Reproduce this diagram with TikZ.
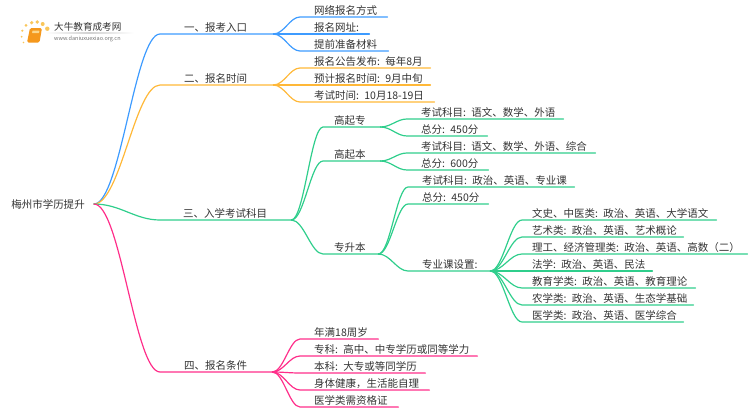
\documentclass[tikz,border=0pt]{standalone}
\usepackage{fontspec}
\setmainfont{Noto Sans CJK SC}
\usetikzlibrary{calc}
\definecolor{inkgray}{HTML}{333333}
\definecolor{bluebranch}{HTML}{3D9BFF}
\definecolor{orangebranch}{HTML}{FFB838}
\definecolor{greenbranch}{HTML}{2FCE8C}
\definecolor{pinkbranch}{HTML}{FF2E8A}
\definecolor{dotyellow}{HTML}{F9C65A}
\definecolor{bookorange}{HTML}{F5981C}
\tikzset{
  item/.style 2 args={anchor=south west, text width=#1pt, align=left, inner xsep=0pt, inner ysep=1pt,
    text=inkgray, font=\fontsize{10.5}{13}\selectfont, execute at begin node={\spaceskip=1.5pt\hspace*{#2pt}}},
  curve/.style={to path={.. controls ($(\tikztostart)!0.4!(\tikztostart -| \tikztotarget)$)
    and ($(\tikztotarget)!0.38!(\tikztotarget -| \tikztostart)$) .. (\tikztotarget)}},
  branch/.style={line width=1.2pt, line cap=round, color=#1}
}
\begin{document}
\begin{tikzpicture}[x=1pt, y=-1pt]
  \useasboundingbox (0,0) rectangle (750,410);

  % logo
  \foreach \dx/\dy/\dr in {23.5/42.5/0.8, 21.7/36.7/1, 22.3/30.7/1.2, 26/25.3/1.5, 31.7/22.7/1.8, 37.3/22/1.9, 42.7/24/2, 47.3/28.7/2.2}
    \fill[dotyellow] (\dx,\dy) circle (\dr pt);
  \fill[bookorange, rounded corners=1.5pt] (30,28) -- (42,28) -- (39.5,42.5) -- (27,42.5) -- cycle;
  \fill[dotyellow!70!white, rounded corners=0.5pt] (32.5,30.5) -- (39.5,30.5) -- (39,33) -- (32,33) -- cycle;
  \shade[left color=white, right color=white, middle color=black!18] (45,32.7) rectangle (134,33.3);
  \node [anchor=west, inner sep=0pt, text=inkgray, font=\fontsize{9.6}{11}\selectfont] (logoname) at (54,27) {大牛教育成考网};
  \node [anchor=west, inner sep=0pt, text=black!55, font=\fontsize{5.5}{7}\selectfont] (logourl) at (54,38.7) {www.daniuxuexiao.org.cn};

  % root and first level
  \node [inner xsep=9pt, inner ysep=0pt, text=inkgray, font=\fontsize{10.5}{13}\selectfont] (root) at (48,204) {梅州市学历提升};
  \node [item={113}{24}] (a) at (160,34) {一、报考入口};
  \node [item={113}{24}] (b) at (160,85) {二、报名时间};
  \node [item={131}{23}] (c) at (160,220) {三、入学考试科目};
  \node [item={112}{24}] (d) at (160,372) {四、报名条件};

  \node [item={87}{14}] (a1) at (300,17) {网络报名方式};
  \node [item={69}{14}] (a2) at (300,34) {报名网址:};
  \node [item={88}{14}] (a3) at (300,51) {提前准备材料};

  \node [item={130}{14}] (b1) at (300,68) {报名公告发布: 每年8月};
  \node [item={130}{14}] (b2) at (300,85) {预计报名时间: 9月中旬};
  \node [item={134}{14}] (b3) at (300,102) {考试时间: 10月18-19日};

  \node [item={57}{11}] (c1) at (323,127) {高起专};
  \node [item={57}{11}] (c2) at (323,161) {高起本};
  \node [item={55}{11}] (c3) at (323,254) {专升本};

  \node [item={156}{14}] (c11) at (407,119) {考试科目: 语文、数学、外语};
  \node [item={80}{14}] (c12) at (407,136) {总分: 450分};
  \node [item={188}{14}] (c21) at (407,153) {考试科目: 语文、数学、外语、综合};
  \node [item={81}{14}] (c22) at (407,170) {总分: 600分};
  \node [item={166}{14}] (c31) at (408,187) {考试科目: 政治、英语、专业课};
  \node [item={80}{14}] (c32) at (408,204) {总分: 450分};
  \node [item={82}{14}] (c33) at (408,271) {专业课设置:};

  \node [item={194}{10}] (m1) at (522,220) {文史、中医类: 政治、英语、大学语文};
  \node [item={161}{10}] (m2) at (522,237) {艺术类: 政治、英语、艺术概论};
  \node [item={225}{10}] (m3) at (522,254) {理工、经济管理类: 政治、英语、高数（二）};
  \node [item={130}{10}] (m4) at (522,271) {法学: 政治、英语、民法};
  \node [item={173}{10}] (m5) at (522,288) {教育学类: 政治、英语、教育理论};
  \node [item={171}{10}] (m6) at (522,305) {农学类: 政治、英语、生态学基础};
  \node [item={161}{10}] (m7) at (522,322) {医学类: 政治、英语、医学综合};

  \node [item={78}{14}] (d1) at (300,339) {年满18周岁};
  \node [item={177}{14}] (d2) at (300,356) {专科: 高中、中专学历或同等学力};
  \node [item={125}{14}] (d3) at (300,373) {本科: 大专或等同学历};
  \node [item={129}{14}] (d4) at (300,390) {身体健康，生活能自理};
  \node [item={98}{14}] (d5) at (300,407) {医学类需资格证};

  % connectors
  \foreach \kid/\up in {a/root.east, a1/a.south east, a2/a.south east, a3/a.south east}
    \draw [branch=bluebranch] (\up) to [curve] (\kid.south west) -- (\kid.south east);
  \foreach \kid/\up in {b/root.east, b1/b.south east, b2/b.south east, b3/b.south east}
    \draw [branch=orangebranch] (\up) to [curve] (\kid.south west) -- (\kid.south east);
  \foreach \kid/\up in {c/root.east, c1/c.south east, c2/c.south east, c3/c.south east,
      c11/c1.south east, c12/c1.south east, c21/c2.south east, c22/c2.south east,
      c31/c3.south east, c32/c3.south east, c33/c3.south east,
      m1/c33.south east, m2/c33.south east, m3/c33.south east, m4/c33.south east,
      m5/c33.south east, m6/c33.south east, m7/c33.south east}
    \draw [branch=greenbranch] (\up) to [curve] (\kid.south west) -- (\kid.south east);
  \foreach \kid/\up in {d/root.east, d1/d.south east, d2/d.south east, d3/d.south east, d4/d.south east, d5/d.south east}
    \draw [branch=pinkbranch] (\up) to [curve] (\kid.south west) -- (\kid.south east);
\end{tikzpicture}
\end{document}
